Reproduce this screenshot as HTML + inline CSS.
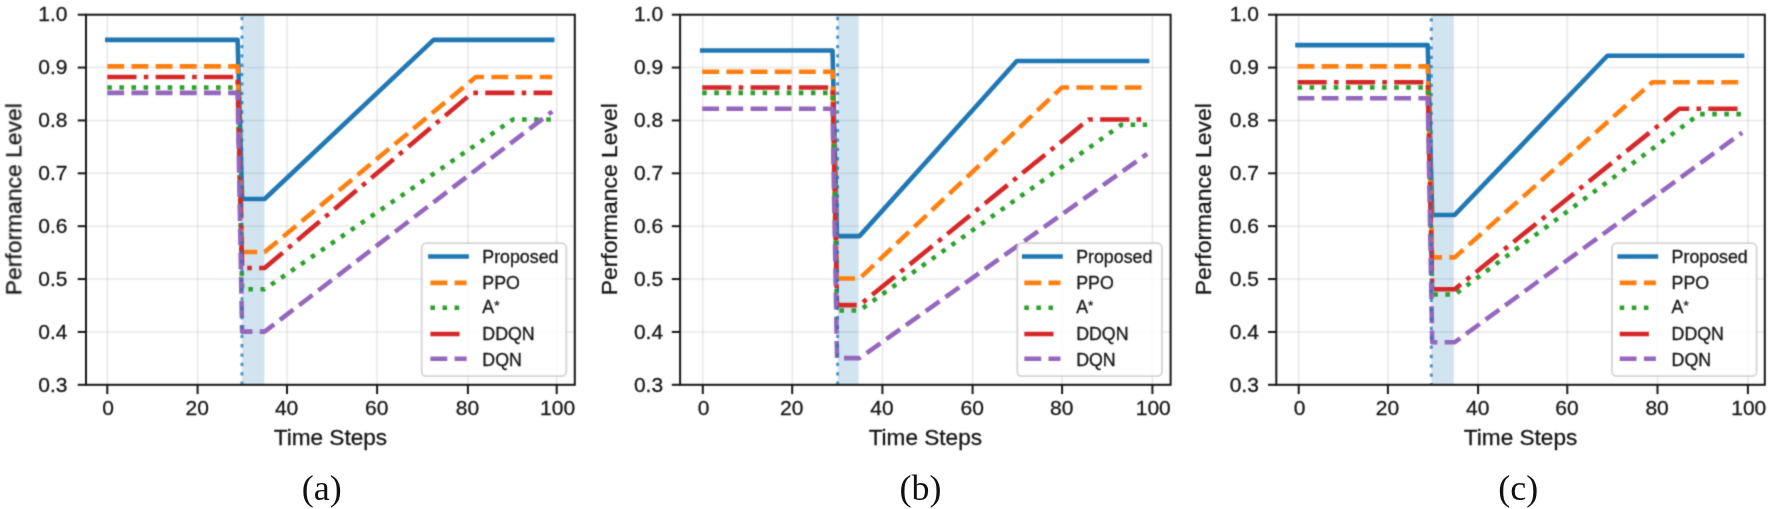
<!DOCTYPE html>
<html><head><meta charset="utf-8"><title>Performance Level vs Time Steps</title>
<style>html,body{margin:0;padding:0;background:#fff}body{width:1772px;height:509px;overflow:hidden}</style></head>
<body>
<svg width="1772" height="509" viewBox="0 0 1772 509" style="display:block">
<style>.ax text{stroke:#161616;stroke-width:0.3px}</style>
<defs><filter id="soft" x="0" y="0" width="100%" height="100%" filterUnits="userSpaceOnUse" color-interpolation-filters="sRGB"><feConvolveMatrix order="3" kernelMatrix="0.035 0.10 0.035 0.10 0.46 0.10 0.035 0.10 0.035" edgeMode="duplicate" preserveAlpha="true"/></filter></defs>
<g filter="url(#soft)">
<rect width="1772" height="509" fill="#fff"/>
<g font-family="'Liberation Sans', Arial, sans-serif" fill="#161616" class="ax">
<line x1="107.30" y1="14.7" x2="107.30" y2="384.8" stroke="#b0b0b0" stroke-opacity="0.28" stroke-width="1.6"/>
<line x1="197.60" y1="14.7" x2="197.60" y2="384.8" stroke="#b0b0b0" stroke-opacity="0.28" stroke-width="1.6"/>
<line x1="287.00" y1="14.7" x2="287.00" y2="384.8" stroke="#b0b0b0" stroke-opacity="0.28" stroke-width="1.6"/>
<line x1="377.10" y1="14.7" x2="377.10" y2="384.8" stroke="#b0b0b0" stroke-opacity="0.28" stroke-width="1.6"/>
<line x1="467.90" y1="14.7" x2="467.90" y2="384.8" stroke="#b0b0b0" stroke-opacity="0.28" stroke-width="1.6"/>
<line x1="556.70" y1="14.7" x2="556.70" y2="384.8" stroke="#b0b0b0" stroke-opacity="0.28" stroke-width="1.6"/>
<line x1="86.0" y1="384.80" x2="574.8" y2="384.80" stroke="#b0b0b0" stroke-opacity="0.28" stroke-width="1.6"/>
<line x1="86.0" y1="331.93" x2="574.8" y2="331.93" stroke="#b0b0b0" stroke-opacity="0.28" stroke-width="1.6"/>
<line x1="86.0" y1="279.06" x2="574.8" y2="279.06" stroke="#b0b0b0" stroke-opacity="0.28" stroke-width="1.6"/>
<line x1="86.0" y1="226.19" x2="574.8" y2="226.19" stroke="#b0b0b0" stroke-opacity="0.28" stroke-width="1.6"/>
<line x1="86.0" y1="173.31" x2="574.8" y2="173.31" stroke="#b0b0b0" stroke-opacity="0.28" stroke-width="1.6"/>
<line x1="86.0" y1="120.44" x2="574.8" y2="120.44" stroke="#b0b0b0" stroke-opacity="0.28" stroke-width="1.6"/>
<line x1="86.0" y1="67.57" x2="574.8" y2="67.57" stroke="#b0b0b0" stroke-opacity="0.28" stroke-width="1.6"/>
<line x1="86.0" y1="14.70" x2="574.8" y2="14.70" stroke="#b0b0b0" stroke-opacity="0.28" stroke-width="1.6"/>
<rect x="241.90" y="14.7" width="22.60" height="370.10" fill="#1f77b4" fill-opacity="0.2"/>
<g>
<polyline points="107.30,39.85 237.63,39.85 242.12,199.00 264.59,199.00 433.56,39.85 552.21,39.85" fill="none" stroke="#1f77b4" stroke-width="4.56" stroke-linejoin="round" stroke-linecap="square"/>
<polyline points="107.30,66.37 237.63,66.37 242.12,252.05 264.59,252.05 475.81,76.98 552.21,76.98" fill="none" stroke="#ff7f0e" stroke-width="4.56" stroke-linejoin="round" stroke-dasharray="16.87 7.30"/>
<polyline points="107.30,87.59 237.63,87.59 242.12,289.19 264.59,289.19 513.11,119.42 552.21,119.42" fill="none" stroke="#2ca02c" stroke-width="4.56" stroke-linejoin="round" stroke-dasharray="4.56 7.52"/>
<polyline points="107.30,76.98 237.63,76.98 242.12,267.97 264.59,267.97 472.21,92.90 552.21,92.90" fill="none" stroke="#d62728" stroke-width="4.56" stroke-linejoin="round" stroke-dasharray="29.18 7.30 4.56 7.30"/>
<polyline points="107.30,92.90 237.63,92.90 242.12,331.63 264.59,331.63 552.21,111.47" fill="none" stroke="#9467bd" stroke-width="4.56" stroke-linejoin="round" stroke-dasharray="16.87 7.30"/>
</g>
<line x1="241.90" y1="384.8" x2="241.90" y2="14.7" stroke="#1f77b4" stroke-opacity="0.78" stroke-width="2.9" stroke-dasharray="3.3 6.05" stroke-dashoffset="0"/>
<rect x="86.0" y="14.7" width="488.80" height="370.10" fill="none" stroke="#161616" stroke-width="2.0"/>
<line x1="107.30" y1="384.8" x2="107.30" y2="394.1" stroke="#161616" stroke-width="2.0"/>
<text x="108.20" y="415.40" font-size="21" text-anchor="middle">0</text>
<line x1="197.60" y1="384.8" x2="197.60" y2="394.1" stroke="#161616" stroke-width="2.0"/>
<text x="197.20" y="415.40" font-size="21" text-anchor="middle">20</text>
<line x1="287.00" y1="384.8" x2="287.00" y2="394.1" stroke="#161616" stroke-width="2.0"/>
<text x="286.60" y="415.40" font-size="21" text-anchor="middle">40</text>
<line x1="377.10" y1="384.8" x2="377.10" y2="394.1" stroke="#161616" stroke-width="2.0"/>
<text x="376.70" y="415.40" font-size="21" text-anchor="middle">60</text>
<line x1="467.90" y1="384.8" x2="467.90" y2="394.1" stroke="#161616" stroke-width="2.0"/>
<text x="467.50" y="415.40" font-size="21" text-anchor="middle">80</text>
<line x1="556.70" y1="384.8" x2="556.70" y2="394.1" stroke="#161616" stroke-width="2.0"/>
<text x="557.60" y="415.40" font-size="21" text-anchor="middle">100</text>
<line x1="77.70" y1="384.80" x2="86.0" y2="384.80" stroke="#161616" stroke-width="2.0"/>
<text x="67.50" y="391.60" font-size="21" text-anchor="end">0.3</text>
<line x1="77.70" y1="331.93" x2="86.0" y2="331.93" stroke="#161616" stroke-width="2.0"/>
<text x="67.50" y="338.73" font-size="21" text-anchor="end">0.4</text>
<line x1="77.70" y1="279.06" x2="86.0" y2="279.06" stroke="#161616" stroke-width="2.0"/>
<text x="67.50" y="285.86" font-size="21" text-anchor="end">0.5</text>
<line x1="77.70" y1="226.19" x2="86.0" y2="226.19" stroke="#161616" stroke-width="2.0"/>
<text x="67.50" y="232.79" font-size="21" text-anchor="end">0.6</text>
<line x1="77.70" y1="173.31" x2="86.0" y2="173.31" stroke="#161616" stroke-width="2.0"/>
<text x="67.50" y="179.61" font-size="21" text-anchor="end">0.7</text>
<line x1="77.70" y1="120.44" x2="86.0" y2="120.44" stroke="#161616" stroke-width="2.0"/>
<text x="67.50" y="126.84" font-size="21" text-anchor="end">0.8</text>
<line x1="77.70" y1="67.57" x2="86.0" y2="67.57" stroke="#161616" stroke-width="2.0"/>
<text x="67.50" y="73.77" font-size="21" text-anchor="end">0.9</text>
<line x1="77.70" y1="14.70" x2="86.0" y2="14.70" stroke="#161616" stroke-width="2.0"/>
<text x="67.50" y="20.60" font-size="21" text-anchor="end">1.0</text>
<text x="330.40" y="445.2" font-size="22.6" text-anchor="middle">Time Steps</text>
<text transform="translate(21.30,199.25) rotate(-90)" font-size="22.9" text-anchor="middle">Performance Level</text>
<rect x="421.70" y="243.2" width="144.6" height="133" rx="4.5" ry="4.5" fill="#fff" fill-opacity="0.8" stroke="#ccc" stroke-opacity="0.85" stroke-width="1.8"/>
<line x1="430.40" y1="256.50" x2="466.60" y2="256.50" stroke="#1f77b4" stroke-width="4.56" stroke-linecap="square"/>
<text x="482.30" y="262.65" font-size="17.8">Proposed</text>
<line x1="430.40" y1="282.90" x2="466.60" y2="282.90" stroke="#ff7f0e" stroke-width="4.56" stroke-dasharray="16.87 7.30"/>
<text x="482.30" y="288.60" font-size="17.8">PPO</text>
<line x1="430.40" y1="307.70" x2="466.60" y2="307.70" stroke="#2ca02c" stroke-width="4.56" stroke-dasharray="4.56 7.52"/>
<text x="482.30" y="313.20" font-size="17.8">A<tspan font-size="13.5" dy="-3.2">*</tspan></text>
<line x1="430.40" y1="334.00" x2="466.60" y2="334.00" stroke="#d62728" stroke-width="4.56" stroke-dasharray="29.18 7.30 4.56 7.30"/>
<text x="482.30" y="340.10" font-size="17.8">DDQN</text>
<line x1="430.40" y1="358.80" x2="466.60" y2="358.80" stroke="#9467bd" stroke-width="4.56" stroke-dasharray="16.87 7.30"/>
<text x="482.30" y="365.60" font-size="17.8">DQN</text>
</g>
<g font-family="'Liberation Sans', Arial, sans-serif" fill="#161616" class="ax">
<line x1="702.80" y1="14.7" x2="702.80" y2="384.8" stroke="#b0b0b0" stroke-opacity="0.28" stroke-width="1.6"/>
<line x1="792.20" y1="14.7" x2="792.20" y2="384.8" stroke="#b0b0b0" stroke-opacity="0.28" stroke-width="1.6"/>
<line x1="882.40" y1="14.7" x2="882.40" y2="384.8" stroke="#b0b0b0" stroke-opacity="0.28" stroke-width="1.6"/>
<line x1="972.60" y1="14.7" x2="972.60" y2="384.8" stroke="#b0b0b0" stroke-opacity="0.28" stroke-width="1.6"/>
<line x1="1062.10" y1="14.7" x2="1062.10" y2="384.8" stroke="#b0b0b0" stroke-opacity="0.28" stroke-width="1.6"/>
<line x1="1152.40" y1="14.7" x2="1152.40" y2="384.8" stroke="#b0b0b0" stroke-opacity="0.28" stroke-width="1.6"/>
<line x1="680.1" y1="384.80" x2="1170.6" y2="384.80" stroke="#b0b0b0" stroke-opacity="0.28" stroke-width="1.6"/>
<line x1="680.1" y1="331.93" x2="1170.6" y2="331.93" stroke="#b0b0b0" stroke-opacity="0.28" stroke-width="1.6"/>
<line x1="680.1" y1="279.06" x2="1170.6" y2="279.06" stroke="#b0b0b0" stroke-opacity="0.28" stroke-width="1.6"/>
<line x1="680.1" y1="226.19" x2="1170.6" y2="226.19" stroke="#b0b0b0" stroke-opacity="0.28" stroke-width="1.6"/>
<line x1="680.1" y1="173.31" x2="1170.6" y2="173.31" stroke="#b0b0b0" stroke-opacity="0.28" stroke-width="1.6"/>
<line x1="680.1" y1="120.44" x2="1170.6" y2="120.44" stroke="#b0b0b0" stroke-opacity="0.28" stroke-width="1.6"/>
<line x1="680.1" y1="67.57" x2="1170.6" y2="67.57" stroke="#b0b0b0" stroke-opacity="0.28" stroke-width="1.6"/>
<line x1="680.1" y1="14.70" x2="1170.6" y2="14.70" stroke="#b0b0b0" stroke-opacity="0.28" stroke-width="1.6"/>
<rect x="837.60" y="14.7" width="21.00" height="370.10" fill="#1f77b4" fill-opacity="0.2"/>
<g>
<polyline points="702.20,50.46 832.53,50.46 837.02,236.14 859.49,236.14 1016.78,61.07 1147.11,61.07" fill="none" stroke="#1f77b4" stroke-width="4.56" stroke-linejoin="round" stroke-linecap="square"/>
<polyline points="702.20,71.68 832.53,71.68 837.02,278.58 859.49,278.58 1061.72,87.59 1147.11,87.59" fill="none" stroke="#ff7f0e" stroke-width="4.56" stroke-linejoin="round" stroke-dasharray="16.87 7.30"/>
<polyline points="702.20,92.90 832.53,92.90 837.02,310.41 859.49,310.41 1121.49,124.73 1147.11,124.73" fill="none" stroke="#2ca02c" stroke-width="4.56" stroke-linejoin="round" stroke-dasharray="4.56 7.52"/>
<polyline points="702.20,87.59 832.53,87.59 837.02,305.10 859.49,305.10 1088.68,119.42 1147.11,119.42" fill="none" stroke="#d62728" stroke-width="4.56" stroke-linejoin="round" stroke-dasharray="29.18 7.30 4.56 7.30"/>
<polyline points="702.20,108.81 832.53,108.81 837.02,358.15 859.49,358.15 1147.11,153.91" fill="none" stroke="#9467bd" stroke-width="4.56" stroke-linejoin="round" stroke-dasharray="16.87 7.30"/>
</g>
<line x1="837.60" y1="384.8" x2="837.60" y2="14.7" stroke="#1f77b4" stroke-opacity="0.78" stroke-width="2.9" stroke-dasharray="3.3 6.05" stroke-dashoffset="0"/>
<rect x="680.1" y="14.7" width="490.50" height="370.10" fill="none" stroke="#161616" stroke-width="2.0"/>
<line x1="702.80" y1="384.8" x2="702.80" y2="394.1" stroke="#161616" stroke-width="2.0"/>
<text x="703.70" y="415.40" font-size="21" text-anchor="middle">0</text>
<line x1="792.20" y1="384.8" x2="792.20" y2="394.1" stroke="#161616" stroke-width="2.0"/>
<text x="791.80" y="415.40" font-size="21" text-anchor="middle">20</text>
<line x1="882.40" y1="384.8" x2="882.40" y2="394.1" stroke="#161616" stroke-width="2.0"/>
<text x="882.00" y="415.40" font-size="21" text-anchor="middle">40</text>
<line x1="972.60" y1="384.8" x2="972.60" y2="394.1" stroke="#161616" stroke-width="2.0"/>
<text x="972.20" y="415.40" font-size="21" text-anchor="middle">60</text>
<line x1="1062.10" y1="384.8" x2="1062.10" y2="394.1" stroke="#161616" stroke-width="2.0"/>
<text x="1061.70" y="415.40" font-size="21" text-anchor="middle">80</text>
<line x1="1152.40" y1="384.8" x2="1152.40" y2="394.1" stroke="#161616" stroke-width="2.0"/>
<text x="1153.30" y="415.40" font-size="21" text-anchor="middle">100</text>
<line x1="671.80" y1="384.80" x2="680.1" y2="384.80" stroke="#161616" stroke-width="2.0"/>
<text x="663.10" y="391.60" font-size="21" text-anchor="end">0.3</text>
<line x1="671.80" y1="331.93" x2="680.1" y2="331.93" stroke="#161616" stroke-width="2.0"/>
<text x="663.10" y="338.73" font-size="21" text-anchor="end">0.4</text>
<line x1="671.80" y1="279.06" x2="680.1" y2="279.06" stroke="#161616" stroke-width="2.0"/>
<text x="663.10" y="285.86" font-size="21" text-anchor="end">0.5</text>
<line x1="671.80" y1="226.19" x2="680.1" y2="226.19" stroke="#161616" stroke-width="2.0"/>
<text x="663.10" y="232.79" font-size="21" text-anchor="end">0.6</text>
<line x1="671.80" y1="173.31" x2="680.1" y2="173.31" stroke="#161616" stroke-width="2.0"/>
<text x="663.10" y="179.61" font-size="21" text-anchor="end">0.7</text>
<line x1="671.80" y1="120.44" x2="680.1" y2="120.44" stroke="#161616" stroke-width="2.0"/>
<text x="663.10" y="126.84" font-size="21" text-anchor="end">0.8</text>
<line x1="671.80" y1="67.57" x2="680.1" y2="67.57" stroke="#161616" stroke-width="2.0"/>
<text x="663.10" y="73.77" font-size="21" text-anchor="end">0.9</text>
<line x1="671.80" y1="14.70" x2="680.1" y2="14.70" stroke="#161616" stroke-width="2.0"/>
<text x="663.10" y="20.60" font-size="21" text-anchor="end">1.0</text>
<text x="925.35" y="445.2" font-size="22.6" text-anchor="middle">Time Steps</text>
<text transform="translate(616.50,199.25) rotate(-90)" font-size="22.9" text-anchor="middle">Performance Level</text>
<rect x="1017.30" y="243.2" width="144.6" height="133" rx="4.5" ry="4.5" fill="#fff" fill-opacity="0.8" stroke="#ccc" stroke-opacity="0.85" stroke-width="1.8"/>
<line x1="1024.30" y1="256.50" x2="1060.50" y2="256.50" stroke="#1f77b4" stroke-width="4.56" stroke-linecap="square"/>
<text x="1076.20" y="262.65" font-size="17.8">Proposed</text>
<line x1="1024.30" y1="282.90" x2="1060.50" y2="282.90" stroke="#ff7f0e" stroke-width="4.56" stroke-dasharray="16.87 7.30"/>
<text x="1076.20" y="288.60" font-size="17.8">PPO</text>
<line x1="1024.30" y1="307.70" x2="1060.50" y2="307.70" stroke="#2ca02c" stroke-width="4.56" stroke-dasharray="4.56 7.52"/>
<text x="1076.20" y="313.20" font-size="17.8">A<tspan font-size="13.5" dy="-3.2">*</tspan></text>
<line x1="1024.30" y1="334.00" x2="1060.50" y2="334.00" stroke="#d62728" stroke-width="4.56" stroke-dasharray="29.18 7.30 4.56 7.30"/>
<text x="1076.20" y="340.10" font-size="17.8">DDQN</text>
<line x1="1024.30" y1="358.80" x2="1060.50" y2="358.80" stroke="#9467bd" stroke-width="4.56" stroke-dasharray="16.87 7.30"/>
<text x="1076.20" y="365.60" font-size="17.8">DQN</text>
</g>
<g font-family="'Liberation Sans', Arial, sans-serif" fill="#161616" class="ax">
<line x1="1298.70" y1="14.7" x2="1298.70" y2="384.8" stroke="#b0b0b0" stroke-opacity="0.28" stroke-width="1.6"/>
<line x1="1387.90" y1="14.7" x2="1387.90" y2="384.8" stroke="#b0b0b0" stroke-opacity="0.28" stroke-width="1.6"/>
<line x1="1478.10" y1="14.7" x2="1478.10" y2="384.8" stroke="#b0b0b0" stroke-opacity="0.28" stroke-width="1.6"/>
<line x1="1567.30" y1="14.7" x2="1567.30" y2="384.8" stroke="#b0b0b0" stroke-opacity="0.28" stroke-width="1.6"/>
<line x1="1657.50" y1="14.7" x2="1657.50" y2="384.8" stroke="#b0b0b0" stroke-opacity="0.28" stroke-width="1.6"/>
<line x1="1747.90" y1="14.7" x2="1747.90" y2="384.8" stroke="#b0b0b0" stroke-opacity="0.28" stroke-width="1.6"/>
<line x1="1276.3" y1="384.80" x2="1764.8" y2="384.80" stroke="#b0b0b0" stroke-opacity="0.28" stroke-width="1.6"/>
<line x1="1276.3" y1="331.93" x2="1764.8" y2="331.93" stroke="#b0b0b0" stroke-opacity="0.28" stroke-width="1.6"/>
<line x1="1276.3" y1="279.06" x2="1764.8" y2="279.06" stroke="#b0b0b0" stroke-opacity="0.28" stroke-width="1.6"/>
<line x1="1276.3" y1="226.19" x2="1764.8" y2="226.19" stroke="#b0b0b0" stroke-opacity="0.28" stroke-width="1.6"/>
<line x1="1276.3" y1="173.31" x2="1764.8" y2="173.31" stroke="#b0b0b0" stroke-opacity="0.28" stroke-width="1.6"/>
<line x1="1276.3" y1="120.44" x2="1764.8" y2="120.44" stroke="#b0b0b0" stroke-opacity="0.28" stroke-width="1.6"/>
<line x1="1276.3" y1="67.57" x2="1764.8" y2="67.57" stroke="#b0b0b0" stroke-opacity="0.28" stroke-width="1.6"/>
<line x1="1276.3" y1="14.70" x2="1764.8" y2="14.70" stroke="#b0b0b0" stroke-opacity="0.28" stroke-width="1.6"/>
<rect x="1431.30" y="14.7" width="22.50" height="370.10" fill="#1f77b4" fill-opacity="0.2"/>
<g>
<polyline points="1297.50,45.15 1427.74,45.15 1432.23,214.92 1454.68,214.92 1607.38,55.76 1742.11,55.76" fill="none" stroke="#1f77b4" stroke-width="4.56" stroke-linejoin="round" stroke-linecap="square"/>
<polyline points="1297.50,66.37 1427.74,66.37 1432.23,257.36 1454.68,257.36 1652.29,82.29 1742.11,82.29" fill="none" stroke="#ff7f0e" stroke-width="4.56" stroke-linejoin="round" stroke-dasharray="16.87 7.30"/>
<polyline points="1297.50,87.59 1427.74,87.59 1432.23,294.49 1454.68,294.49 1699.44,114.12 1742.11,114.12" fill="none" stroke="#2ca02c" stroke-width="4.56" stroke-linejoin="round" stroke-dasharray="4.56 7.52"/>
<polyline points="1297.50,82.29 1427.74,82.29 1432.23,289.19 1454.68,289.19 1679.23,108.81 1742.11,108.81" fill="none" stroke="#d62728" stroke-width="4.56" stroke-linejoin="round" stroke-dasharray="29.18 7.30 4.56 7.30"/>
<polyline points="1297.50,98.20 1427.74,98.20 1432.23,342.24 1454.68,342.24 1742.11,132.69" fill="none" stroke="#9467bd" stroke-width="4.56" stroke-linejoin="round" stroke-dasharray="16.87 7.30"/>
</g>
<line x1="1431.30" y1="384.8" x2="1431.30" y2="14.7" stroke="#1f77b4" stroke-opacity="0.78" stroke-width="2.9" stroke-dasharray="3.3 6.05" stroke-dashoffset="1.4"/>
<rect x="1276.3" y="14.7" width="488.50" height="370.10" fill="none" stroke="#161616" stroke-width="2.0"/>
<line x1="1298.70" y1="384.8" x2="1298.70" y2="394.1" stroke="#161616" stroke-width="2.0"/>
<text x="1299.60" y="415.40" font-size="21" text-anchor="middle">0</text>
<line x1="1387.90" y1="384.8" x2="1387.90" y2="394.1" stroke="#161616" stroke-width="2.0"/>
<text x="1387.50" y="415.40" font-size="21" text-anchor="middle">20</text>
<line x1="1478.10" y1="384.8" x2="1478.10" y2="394.1" stroke="#161616" stroke-width="2.0"/>
<text x="1477.70" y="415.40" font-size="21" text-anchor="middle">40</text>
<line x1="1567.30" y1="384.8" x2="1567.30" y2="394.1" stroke="#161616" stroke-width="2.0"/>
<text x="1566.90" y="415.40" font-size="21" text-anchor="middle">60</text>
<line x1="1657.50" y1="384.8" x2="1657.50" y2="394.1" stroke="#161616" stroke-width="2.0"/>
<text x="1657.10" y="415.40" font-size="21" text-anchor="middle">80</text>
<line x1="1747.90" y1="384.8" x2="1747.90" y2="394.1" stroke="#161616" stroke-width="2.0"/>
<text x="1748.80" y="415.40" font-size="21" text-anchor="middle">100</text>
<line x1="1268.00" y1="384.80" x2="1276.3" y2="384.80" stroke="#161616" stroke-width="2.0"/>
<text x="1258.90" y="391.60" font-size="21" text-anchor="end">0.3</text>
<line x1="1268.00" y1="331.93" x2="1276.3" y2="331.93" stroke="#161616" stroke-width="2.0"/>
<text x="1258.90" y="338.73" font-size="21" text-anchor="end">0.4</text>
<line x1="1268.00" y1="279.06" x2="1276.3" y2="279.06" stroke="#161616" stroke-width="2.0"/>
<text x="1258.90" y="285.86" font-size="21" text-anchor="end">0.5</text>
<line x1="1268.00" y1="226.19" x2="1276.3" y2="226.19" stroke="#161616" stroke-width="2.0"/>
<text x="1258.90" y="232.79" font-size="21" text-anchor="end">0.6</text>
<line x1="1268.00" y1="173.31" x2="1276.3" y2="173.31" stroke="#161616" stroke-width="2.0"/>
<text x="1258.90" y="179.61" font-size="21" text-anchor="end">0.7</text>
<line x1="1268.00" y1="120.44" x2="1276.3" y2="120.44" stroke="#161616" stroke-width="2.0"/>
<text x="1258.90" y="126.84" font-size="21" text-anchor="end">0.8</text>
<line x1="1268.00" y1="67.57" x2="1276.3" y2="67.57" stroke="#161616" stroke-width="2.0"/>
<text x="1258.90" y="73.77" font-size="21" text-anchor="end">0.9</text>
<line x1="1268.00" y1="14.70" x2="1276.3" y2="14.70" stroke="#161616" stroke-width="2.0"/>
<text x="1258.90" y="20.60" font-size="21" text-anchor="end">1.0</text>
<text x="1520.55" y="445.2" font-size="22.6" text-anchor="middle">Time Steps</text>
<text transform="translate(1211.40,199.25) rotate(-90)" font-size="22.9" text-anchor="middle">Performance Level</text>
<rect x="1612.00" y="243.2" width="144.6" height="133" rx="4.5" ry="4.5" fill="#fff" fill-opacity="0.8" stroke="#ccc" stroke-opacity="0.85" stroke-width="1.8"/>
<line x1="1619.70" y1="256.50" x2="1655.90" y2="256.50" stroke="#1f77b4" stroke-width="4.56" stroke-linecap="square"/>
<text x="1671.60" y="262.65" font-size="17.8">Proposed</text>
<line x1="1619.70" y1="282.90" x2="1655.90" y2="282.90" stroke="#ff7f0e" stroke-width="4.56" stroke-dasharray="16.87 7.30"/>
<text x="1671.60" y="288.60" font-size="17.8">PPO</text>
<line x1="1619.70" y1="307.70" x2="1655.90" y2="307.70" stroke="#2ca02c" stroke-width="4.56" stroke-dasharray="4.56 7.52"/>
<text x="1671.60" y="313.20" font-size="17.8">A<tspan font-size="13.5" dy="-3.2">*</tspan></text>
<line x1="1619.70" y1="334.00" x2="1655.90" y2="334.00" stroke="#d62728" stroke-width="4.56" stroke-dasharray="29.18 7.30 4.56 7.30"/>
<text x="1671.60" y="340.10" font-size="17.8">DDQN</text>
<line x1="1619.70" y1="358.80" x2="1655.90" y2="358.80" stroke="#9467bd" stroke-width="4.56" stroke-dasharray="16.87 7.30"/>
<text x="1671.60" y="365.60" font-size="17.8">DQN</text>
</g>
</g>
<text x="321.8" y="499.6" font-size="36" text-anchor="middle" font-family="'Liberation Serif', 'Times New Roman', serif" fill="#111">(a)</text>
<text x="920.5" y="499.6" font-size="36" text-anchor="middle" font-family="'Liberation Serif', 'Times New Roman', serif" fill="#111">(b)</text>
<text x="1518.2" y="499.6" font-size="36" text-anchor="middle" font-family="'Liberation Serif', 'Times New Roman', serif" fill="#111">(c)</text>
</svg>
</body></html>
